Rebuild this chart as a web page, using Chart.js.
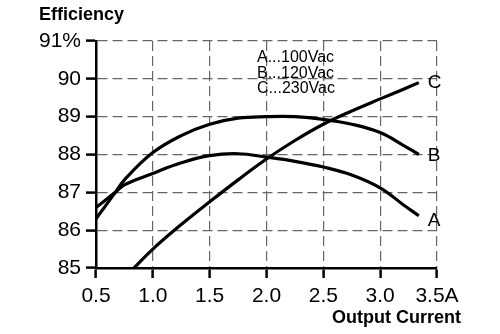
<!DOCTYPE html>
<html>
<head>
<meta charset="utf-8">
<script src="https://cdn.jsdelivr.net/npm/chart.js@4.4.0/dist/chart.umd.min.js"></script>
<style>
  html, body { margin: 0; padding: 0; background: #fff; }
</style>
</head>
<body>
<canvas id="myChart" width="500" height="334"></canvas>
<script>
const ctx = document.getElementById('myChart');

// efficiency curves (x = output current A, y = %)
const curveA = [
  [0.5, 86.6], [0.67, 87.0], [0.75, 87.2], [1.0, 87.5], [1.25, 87.78],
  [1.5, 87.97], [1.75, 88.02], [2.0, 87.93], [2.25, 87.82], [2.5, 87.67],
  [2.75, 87.46], [3.0, 87.12], [3.2, 86.68], [3.34, 86.38]
];
const curveB = [
  [0.5, 86.3], [0.67, 87.0], [0.75, 87.33], [1.0, 88.05], [1.25, 88.5],
  [1.5, 88.8], [1.75, 88.96], [2.0, 89.0], [2.25, 89.0], [2.5, 88.93],
  [2.75, 88.8], [3.0, 88.58], [3.2, 88.25], [3.34, 88.0]
];
const curveC = [
  [0.835, 85.0], [1.0, 85.5], [1.25, 86.15], [1.5, 86.75], [1.75, 87.33],
  [2.0, 87.88], [2.25, 88.37], [2.5, 88.8], [2.75, 89.15], [3.0, 89.47],
  [3.2, 89.72], [3.34, 89.9]
];
const curveNames = ['A', 'B', 'C'];
const legendLines = ['A...100Vac', 'B...120Vac', 'C...230Vac'];

const FONT = "'Liberation Sans', Arial, sans-serif";

const toXY = arr => arr.map(p => ({x: p[0], y: p[1]}));

const labelsPlugin = {
  id: 'labelsPlugin',
  afterDraw(chart) {
    const c = chart.ctx, area = chart.chartArea;
    c.save();
    c.fillStyle = '#000';
    // axis titles
    c.font = 'bold 18px ' + FONT;
    c.textBaseline = 'alphabetic';
    c.textAlign = 'left';
    c.fillText('Efficiency', 39, 20);
    c.textAlign = 'right';
    c.fillText('Output Current', 461, 323);
    // legend text
    c.font = '16px ' + FONT;
    c.textAlign = 'left';
    legendLines.forEach((t, i) => c.fillText(t, area.left + 161, 62 + i * 15.5));
    // curve letters at line ends
    const dy = [5, 1, 0];
    c.font = '19px ' + FONT;
    c.textBaseline = 'middle';
    chart.data.datasets.forEach((ds, i) => {
      const pts = chart.getDatasetMeta(i).data;
      const last = pts[pts.length - 1];
      c.fillText(curveNames[i], last.x + 9, last.y + dy[i]);
    });
    c.restore();
  }
};

const lineStyle = {
  borderColor: '#000',
  borderWidth: 3.2,
  pointRadius: 0,
  fill: false,
  tension: 0.4
};

const gridStyle = {
  color: '#666',
  lineWidth: 1.2,
  tickLength: 10,
  tickColor: '#000',
  tickWidth: 2.5
};

new Chart(ctx, {
  type: 'line',
  data: {
    datasets: [
      Object.assign({label: 'A', data: toXY(curveA)}, lineStyle),
      Object.assign({label: 'B', data: toXY(curveB)}, lineStyle),
      Object.assign({label: 'C', data: toXY(curveC)}, lineStyle)
    ]
  },
  options: {
    responsive: false,
    animation: false,
    layout: { padding: { top: 41, right: 63, left: 0, bottom: 0 } },
    plugins: {
      legend: { display: false },
      tooltip: { enabled: false }
    },
    scales: {
      x: {
        type: 'linear',
        min: 0.5,
        max: 3.5,
        afterFit: s => { s.height = 66; },
        ticks: {
          stepSize: 0.5,
          color: '#000',
          padding: 6,
          maxRotation: 0,
          font: { family: FONT, size: 21 },
          callback: v => v === 3.5 ? '3.5A' : v.toFixed(1)
        },
        grid: gridStyle,
        border: { display: true, color: '#000', width: 2.5, dash: [10, 5] }
      },
      y: {
        min: 85,
        max: 91,
        afterFit: s => { s.width = 96; },
        ticks: {
          stepSize: 1,
          color: '#000',
          padding: 5,
          font: { family: FONT, size: 21 },
          callback: v => v === 91 ? '91%' : v
        },
        grid: gridStyle,
        border: { display: true, color: '#000', width: 2.5, dash: [10, 5] }
      }
    }
  },
  plugins: [labelsPlugin]
});
</script>
</body>
</html>
